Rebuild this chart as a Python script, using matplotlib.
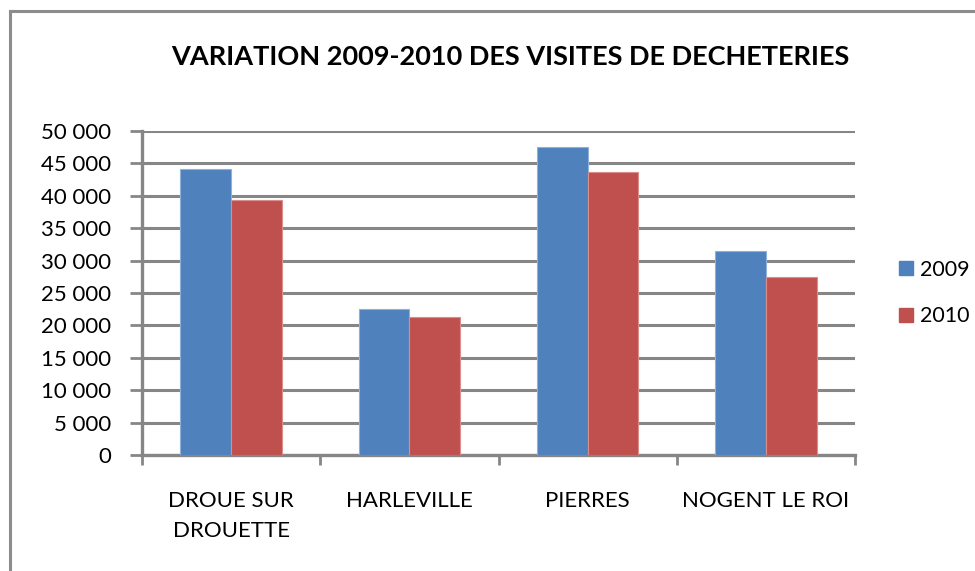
import numpy as np
import matplotlib
matplotlib.use("Agg")
import matplotlib.pyplot as plt
from matplotlib.ticker import FuncFormatter, FixedLocator
from matplotlib.patches import Patch
from matplotlib.lines import Line2D

categories = ["DROUE SUR\nDROUETTE", "HARLEVILLE", "PIERRES", "NOGENT LE ROI"]
years = ["2009", "2010"]
visits_2009 = [44200, 22500, 47600, 31500]
visits_2010 = [39300, 21250, 43600, 27500]
colors = ["#4F81BD", "#C0504D"]
edges = ["#8EB0DA", "#DA8E8C"]

plt.rcParams["font.family"] = ["Lato", "DejaVu Sans"]

W, H = 975, 571
fig = plt.figure(figsize=(W / 100, H / 100), dpi=100)

# outer chart frame (only left/top visible in the crop)
fig.add_artist(Line2D([10 / W, 10 / W], [0, 1 - 11 / H], color="#8C8C8C", lw=2.2,
                      transform=fig.transFigure))
fig.add_artist(Line2D([10 / W, 1], [1 - 11 / H, 1 - 11 / H], color="#8C8C8C", lw=2.2,
                      transform=fig.transFigure))

ax = fig.add_axes([142 / W, (H - 455) / H, (855 - 142) / W, (455 - 131) / H])

x = np.arange(len(categories))
bw = 0.285
for k, vals in enumerate([visits_2009, visits_2010]):
    ax.bar(x + (k - 0.5) * bw, vals, bw, color=colors[k], edgecolor=edges[k],
           linewidth=0.8, zorder=3, label=years[k])

ax.set_xlim(-0.5, len(categories) - 0.5)
ax.set_ylim(0, 50000)
ax.set_yticks(np.arange(0, 50001, 5000))
ax.yaxis.set_major_formatter(FuncFormatter(lambda v, p: f"{int(v):,}".replace(",", " ")))
ax.grid(axis="y", color="#868686", lw=2.2, zorder=0)
ax.set_axisbelow(True)

ax.set_xticks(x)
ax.set_xticklabels(categories, fontsize=16, linespacing=1.6)
ax.xaxis.set_minor_locator(FixedLocator(np.arange(-0.5, len(categories), 1.0)))
ax.tick_params(axis="x", which="major", length=0, pad=26)
ax.tick_params(axis="x", which="minor", length=7, width=2, color="#868686")
ax.tick_params(axis="y", length=9, width=2, color="#868686", labelsize=16, pad=13)

for s in ["top", "right"]:
    ax.spines[s].set_visible(False)
for s in ["left", "bottom"]:
    ax.spines[s].set_color("#868686")
    ax.spines[s].set_linewidth(2.4)

fig.text(510 / W, 1 - 57 / H, "VARIATION 2009-2010 DES VISITES DE DECHETERIES",
         ha="center", va="center", fontsize=19.5, fontweight="bold")

handles = [Patch(facecolor=c, edgecolor=c) for c in colors]
fig.legend(handles, years, loc="center left", bbox_to_anchor=(888 / W, 1 - 293 / H),
           frameon=False, fontsize=15.5, handlelength=0.65, handleheight=0.65,
           handletextpad=0.35, labelspacing=1.25, borderpad=0)

fig.savefig("out.png", dpi=100)
